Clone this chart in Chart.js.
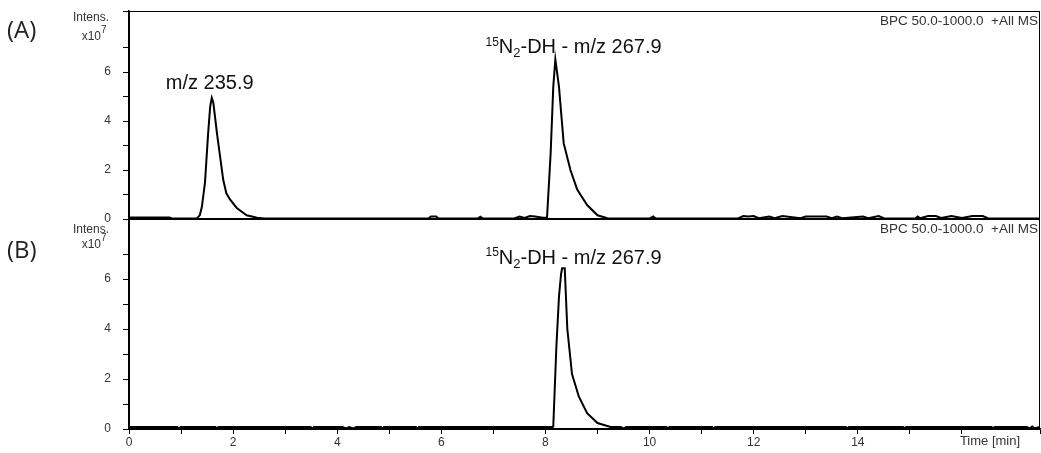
<!DOCTYPE html>
<html>
<head>
<meta charset="utf-8">
<script src="https://cdn.jsdelivr.net/npm/chart.js"></script>
<style>
  body { margin: 0; background: #fff; }
  #wrap { position: relative; width: 1041px; height: 453px; }
  canvas { position: absolute; left: 0; }
</style>
</head>
<body>
<div id="wrap">
  <canvas id="chartA" width="1041" height="222" style="top:0"></canvas>
  <canvas id="chartB" width="1041" height="235" style="top:218px"></canvas>
</div>
<script>
// retention time (min) and intensity (x10^7)
var timeA = [0, 0.78, 0.82, 1.30, 1.36, 1.40, 1.46, 1.52, 1.56, 1.59, 1.62, 1.69, 1.75, 1.81, 1.87, 1.94, 2.07, 2.26, 2.46, 2.6,
  5.75, 5.8, 5.9, 5.95, 6.7, 6.75, 6.8, 7.4, 7.5, 7.6, 7.7, 7.8, 7.95,
  8.03, 8.10, 8.15, 8.19, 8.26, 8.35, 8.48, 8.61, 8.80, 9.0, 9.19,
  10.0, 10.07, 10.12, 11.7, 11.8, 11.9, 12.0, 12.1, 12.3, 12.4, 12.55, 12.9, 13.0, 13.4, 13.5, 13.6, 13.7,
  14.1, 14.2, 14.4, 14.5, 15.1, 15.15, 15.2, 15.35, 15.5, 15.6, 15.8, 16.0, 16.2, 16.4, 16.5, 17.5];
var intA = [0.06, 0.06, 0.02, 0.02, 0.15, 0.5, 1.5, 3.5, 4.6, 4.95, 4.75, 3.5, 2.55, 1.6, 1.05, 0.8, 0.45, 0.15, 0.05, 0.02,
  0.02, 0.1, 0.1, 0.02, 0.02, 0.09, 0.02, 0.02, 0.1, 0.04, 0.12, 0.1, 0.05,
  0.05, 2.7, 5.4, 6.52, 5.4, 3.1, 2.0, 1.2, 0.57, 0.15, 0.03,
  0.02, 0.1, 0.02, 0.02, 0.12, 0.1, 0.12, 0.03, 0.1, 0.03, 0.12, 0.03, 0.1, 0.1, 0.03, 0.1, 0.03,
  0.1, 0.03, 0.12, 0.03, 0.02, 0.1, 0.03, 0.12, 0.12, 0.04, 0.12, 0.04, 0.12, 0.12, 0.03, 0.02];

var timeB = [0, 0.93, 0.96, 0.99, 1.66, 1.69, 1.72, 3.49, 3.52, 3.55, 4.1, 4.17, 4.23, 4.3, 4.37, 4.84, 4.87, 4.9, 5.51, 5.54, 5.57,
  8.13, 8.15, 8.21, 8.26, 8.30, 8.32, 8.37, 8.42, 8.51, 8.64, 8.80, 9.0, 9.25,
  9.45, 9.5, 9.55, 10.32, 10.35, 10.38, 11.2, 11.23, 11.26, 13.77, 13.8, 13.83, 14.87, 14.9, 14.93,
  16.57, 16.6, 16.63, 17.25, 17.3, 17.35, 17.4, 17.5];
var intB = [0.08, 0.08, 0.0, 0.08, 0.08, 0.02, 0.08, 0.08, 0.0, 0.08, 0.08, 0.02, 0.08, 0.02, 0.08, 0.08, 0.02, 0.08, 0.08, 0.02, 0.08,
  0.08, 0.1, 3.3, 5.3, 6.2, 6.43, 6.43, 4.0, 2.2, 1.3, 0.63, 0.24, 0.08,
  0.08, 0.02, 0.08, 0.08, 0.02, 0.08, 0.08, 0.02, 0.08, 0.08, 0.03, 0.08, 0.08, 0.03, 0.08,
  0.08, 0.03, 0.08, 0.08, 0.02, 0.1, 0.03, 0.08];

var xTicks = [0, 2, 4, 6, 8, 10, 12, 14];
var yTicks = [0, 2, 4, 6];

var FONT = "'Liberation Sans', Arial, sans-serif";

function points(t, v) {
  var out = [];
  for (var i = 0; i < t.length; i++) out.push({ x: t[i], y: v[i] });
  return out;
}

function drawPeakLabel(ctx, cx, cy, withIsotope, text) {
  ctx.save();
  ctx.fillStyle = '#111';
  ctx.textBaseline = 'middle';
  ctx.textAlign = 'left';
  if (!withIsotope) {
    ctx.font = '20px ' + FONT;
    ctx.fillText(text, cx - ctx.measureText(text).width / 2, cy);
    ctx.restore();
    return;
  }
  ctx.font = '12px ' + FONT;
  var w1 = ctx.measureText('15').width;
  ctx.font = '20px ' + FONT;
  var w2 = ctx.measureText('N').width;
  ctx.font = '13px ' + FONT;
  var w3 = ctx.measureText('2').width;
  ctx.font = '20px ' + FONT;
  var w4 = ctx.measureText(text).width;
  var x = cx - (w1 + w2 + w3 + w4) / 2;
  ctx.font = '12px ' + FONT;
  ctx.fillText('15', x, cy - 5);
  x += w1;
  ctx.font = '20px ' + FONT;
  ctx.fillText('N', x, cy);
  x += w2;
  ctx.font = '13px ' + FONT;
  ctx.fillText('2', x, cy + 6);
  x += w3;
  ctx.font = '20px ' + FONT;
  ctx.fillText(text, x, cy);
  ctx.restore();
}

function drawFrameText(ctx, area, letter, letterY, intY, xY, supY) {
  ctx.save();
  ctx.fillStyle = '#222';
  ctx.font = "24px 'Open Sans', sans-serif";
  ctx.textBaseline = 'middle';
  ctx.textAlign = 'left';
  ctx.fillText(letter, 7, letterY);

  ctx.fillStyle = '#333';
  ctx.font = '12px ' + FONT;
  ctx.textAlign = 'right';
  ctx.fillText('Intens.', 109, intY);
  ctx.fillText('x10', 101, xY);
  ctx.font = '10px ' + FONT;
  ctx.textAlign = 'left';
  ctx.fillText('7', 101, supY);

  ctx.font = '13.5px ' + FONT;
  ctx.textAlign = 'right';
  ctx.fillText('BPC 50.0-1000.0  +All MS', area.right - 2, area.top + 10);

  // frame round the plot
  ctx.strokeStyle = '#000';
  ctx.lineWidth = 1;
  ctx.strokeRect(area.left + 0.5, area.top + 0.5, area.right - area.left - 1, area.bottom - area.top);
  ctx.lineWidth = 2;
  ctx.beginPath();
  ctx.moveTo(area.left, area.bottom);
  ctx.lineTo(area.right, area.bottom);
  ctx.stroke();
  ctx.restore();
}

var textA = {
  id: 'textA',
  afterDraw: function (chart) {
    var ctx = chart.ctx, xs = chart.scales.x, ys = chart.scales.y;
    drawFrameText(ctx, chart.chartArea, '(A)', 31, 18, 37, 30);
    drawPeakLabel(ctx, xs.getPixelForValue(1.55), ys.getPixelForValue(5.53), false, 'm/z 235.9');
    drawPeakLabel(ctx, xs.getPixelForValue(8.54), ys.getPixelForValue(7.0), true, '-DH - m/z 267.9');
  }
};

var textB = {
  id: 'textB',
  afterDraw: function (chart) {
    var ctx = chart.ctx, xs = chart.scales.x, ys = chart.scales.y;
    drawFrameText(ctx, chart.chartArea, '(B)', 33, 12, 27, 20);
    drawPeakLabel(ctx, xs.getPixelForValue(8.54), ys.getPixelForValue(6.84), true, '-DH - m/z 267.9');
    ctx.save();
    ctx.fillStyle = '#333';
    ctx.font = '13px ' + FONT;
    ctx.textAlign = 'left';
    ctx.textBaseline = 'middle';
    ctx.fillText('Time [min]', xs.getPixelForValue(16) - 2, chart.chartArea.bottom + 12);
    ctx.restore();
  }
};

function yScale(max) {
  return {
    type: 'linear',
    min: 0,
    max: max,
    afterFit: function (s) {
      s.width = 129;
      s.paddingTop = 0;
      s.paddingBottom = 0;
    },
    ticks: {
      stepSize: 1,
      color: '#333',
      padding: 12,
      font: { family: FONT, size: 12 },
      callback: function (v) { return yTicks.indexOf(v) >= 0 ? String(v) : ''; }
    },
    grid: { drawOnChartArea: false, tickLength: 6, color: '#000', lineWidth: 1 },
    border: { color: '#000', width: 1.5 }
  };
}

function lineSet(t, v) {
  return {
    data: points(t, v),
    borderColor: '#000',
    borderWidth: 2,
    pointRadius: 0,
    tension: 0,
    fill: false
  };
}

new Chart(document.getElementById('chartA'), {
  type: 'line',
  data: { datasets: [lineSet(timeA, intA)] },
  options: {
    responsive: false,
    animation: false,
    layout: { padding: { left: 0, right: 1, top: 11, bottom: 3 } },
    plugins: { legend: { display: false }, tooltip: { enabled: false } },
    scales: {
      x: { type: 'linear', min: 0, max: 17.5, display: false },
      y: yScale(8.5)
    }
  },
  plugins: [textA]
});

new Chart(document.getElementById('chartB'), {
  type: 'line',
  data: { datasets: [lineSet(timeB, intB)] },
  options: {
    responsive: false,
    animation: false,
    layout: { padding: { left: 0, right: 1, top: 1, bottom: 0 } },
    plugins: { legend: { display: false }, tooltip: { enabled: false } },
    scales: {
      x: {
        type: 'linear',
        min: 0,
        max: 17.5,
        afterFit: function (s) {
          s.height = 24;
          s.paddingLeft = 0;
          s.paddingRight = 0;
        },
        ticks: {
          stepSize: 1,
          autoSkip: false,
          maxRotation: 0,
          color: '#333',
          padding: 1,
          font: { family: FONT, size: 12 },
          callback: function (v) { return xTicks.indexOf(v) >= 0 ? String(v) : ''; }
        },
        grid: { drawOnChartArea: false, tickLength: 5, color: '#000', lineWidth: 1 },
        border: { color: '#000', width: 1.5 }
      },
      y: yScale(8.4)
    }
  },
  plugins: [textB]
});
</script>
</body>
</html>
